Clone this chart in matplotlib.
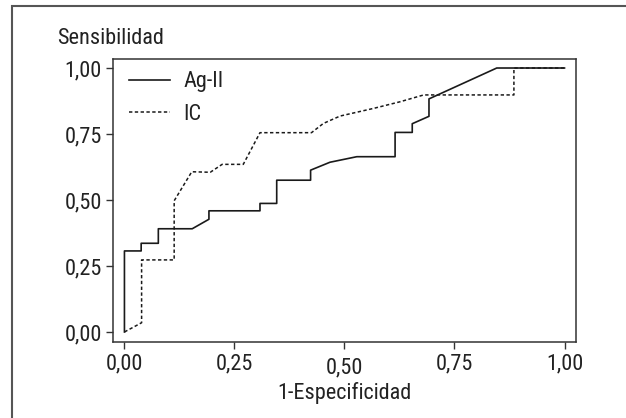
import matplotlib
matplotlib.use("Agg")
import matplotlib.pyplot as plt
from matplotlib.patches import Rectangle

plt.rcParams['font.family'] = ['Roboto Condensed', 'DejaVu Sans']

# ROC data
ag_x = [0, 0, 0.038, 0.038, 0.077, 0.077, 0.154, 0.192, 0.192, 0.308, 0.308,
        0.346, 0.346, 0.423, 0.423, 0.467, 0.528, 0.615, 0.615, 0.654, 0.654,
        0.692, 0.692, 0.846, 1.0]
ag_y = [0, 0.307, 0.307, 0.336, 0.336, 0.391, 0.391, 0.427, 0.459, 0.459, 0.487,
        0.487, 0.575, 0.575, 0.613, 0.643, 0.664, 0.664, 0.756, 0.756, 0.789,
        0.817, 0.883, 1.0, 1.0]

ic_x = [0, 0.039, 0.039, 0.113, 0.113, 0.153, 0.195, 0.222, 0.270, 0.308, 0.425,
        0.452, 0.490, 0.566, 0.626, 0.680, 0.885, 0.885, 1.0]
ic_y = [0, 0.035, 0.273, 0.273, 0.497, 0.607, 0.605, 0.635, 0.635, 0.755, 0.755,
        0.790, 0.818, 0.847, 0.872, 0.898, 0.898, 1.0, 1.0]

tick_vals = [0, 0.25, 0.5, 0.75, 1.0]
tick_labels = ['0,00', '0,25', '0,50', '0,75', '1,00']
series_names = ['Ag-II', 'IC']

W, H = 626, 418
FS = 16
fig = plt.figure(figsize=(W / 100, H / 100), dpi=100)
fig.patches.append(Rectangle((12 / W, -0.1), 1.2, 1 - 6 / H + 0.1,
                             transform=fig.transFigure, fill=False,
                             edgecolor='#555555', linewidth=1.5))

ax = fig.add_axes([113 / W, 1 - 342 / H, (576.4 - 113) / W, (342 - 59.3) / H])
ax.plot(ag_x, ag_y, color='#1a1a1a', lw=1.2, label=series_names[0])
ax.plot(ic_x, ic_y, color='#1a1a1a', lw=1.1, linestyle=(0, (2.2, 1.6)),
        label=series_names[1])

ax.set_xlim(-0.026, 1.027)
ax.set_ylim(-0.038, 1.033)
ax.set_xticks(tick_vals)
ax.set_xticklabels(tick_labels)
ax.set_yticks(tick_vals)
ax.set_yticklabels(tick_labels)
for s in ax.spines.values():
    s.set_color('#333333')
    s.set_linewidth(1.1)
ax.tick_params(axis='both', direction='out', length=5, width=1.0,
               color='#333333', labelsize=FS, labelcolor='#222222', pad=3)
ticks = ax.xaxis.get_major_ticks()
ticks[2].set_pad(6)

ax.set_xlabel('1-Especificidad', fontsize=FS, color='#222222', labelpad=3)
fig.text(57 / W, 1 - 39 / H, 'Sensibilidad', fontsize=FS, color='#222222',
         ha='left', va='center')

leg = ax.legend(loc='upper left', bbox_to_anchor=(0.0, 1.012), frameon=False,
                fontsize=FS, handlelength=1.85, handletextpad=0.6,
                labelspacing=0.5, borderaxespad=0.3, labelcolor='#222222')

fig.savefig('out.png', dpi=100)
